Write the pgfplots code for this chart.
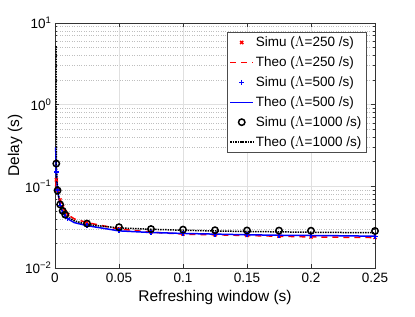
\documentclass[border=0pt]{standalone}
\usepackage{pgfplots}
\pgfplotsset{compat=1.18}
\usepackage{fontspec}
\setmainfont{Liberation Sans}
\begin{document}
\begin{tikzpicture}
\begin{axis}[
  name=ax,
  width=320pt, height=245pt, scale only axis,
  xmin=0, xmax=0.25, ymode=log, ymin=0.01, ymax=10,
  xtick={0,0.05,0.1,0.15,0.2,0.25},
  xticklabels={0,0.05,0.1,0.15,0.2,0.25},
  ytick={0.01,0.1,1,10},
  yticklabels={10\textsuperscript{−2},10\textsuperscript{−1},10\textsuperscript{0},10\textsuperscript{1}},
  tick label style={font=\fontsize{13.5}{15}\selectfont},
  xticklabel style={yshift=-2pt},
  xlabel={Refreshing window (s)}, ylabel={Delay (s)},
  label style={font=\fontsize{15.5}{17}\selectfont},
  ylabel style={yshift=-4pt},
  xmajorgrids, ymajorgrids, yminorgrids,
  major grid style={color=black!12, line width=0.5pt},
  minor grid style={color=black!25, dotted, line width=0.5pt},
  tick align=inside, major tick length=4pt, minor tick length=2pt,
  tick style={black!80, line width=0.5pt},
  axis line style={black!80, line width=0.6pt},
  legend style={at={(rel axis cs:0.972,0.963)}, anchor=north east,
    font=\fontsize{13.5}{15}\selectfont, draw=black!70,
    row sep=4.6pt, inner sep=2.5pt},
  legend cell align=left,
  legend image code/.code={\draw[mark repeat=2,mark phase=2,#1,line width=1.5pt] plot coordinates {(0cm,0cm) (0.4cm,0cm) (0.8cm,0cm)};},
]
% Simu 250
\addplot[only marks, mark=x, red, draw=red, mark size=2.2pt, line width=1.2pt] coordinates {
(0.001,0.12)(0.002,0.09)(0.004,0.068)(0.006,0.056)(0.008,0.049)(0.01,0.045)(0.025,0.036)(0.05,0.030)(0.075,0.0275)(0.1,0.026)(0.125,0.0255)(0.15,0.025)(0.175,0.0245)(0.2,0.024)(0.25,0.0237)};
\addlegendentry{Simu ($\Lambda$=250 /s)}
% Theo 250
\addplot[red, draw=red, line width=1.5pt, dash pattern=on 6pt off 5pt] coordinates {
(0.0005,0.10)(0.001,0.115)(0.002,0.09)(0.004,0.068)(0.006,0.056)(0.008,0.049)(0.01,0.045)(0.015,0.040)(0.025,0.036)(0.05,0.030)(0.075,0.0275)(0.1,0.026)(0.125,0.0255)(0.15,0.025)(0.175,0.0245)(0.2,0.024)(0.225,0.0238)(0.25,0.0236)};
\addlegendentry{Theo ($\Lambda$=250 /s)}
% Simu 500
\addplot[only marks, mark=+, blue, draw=blue, mark size=2.5pt, line width=1.2pt] coordinates {
(0.001,0.15)(0.002,0.09)(0.004,0.058)(0.006,0.048)(0.008,0.043)(0.01,0.040)(0.025,0.033)(0.05,0.0285)(0.075,0.0272)(0.1,0.0265)(0.125,0.026)(0.15,0.0255)(0.175,0.0252)(0.2,0.025)(0.25,0.0245)};
\addlegendentry{Simu ($\Lambda$=500 /s)}
% Theo 500
\addplot[blue, draw=blue, line width=1.5pt] coordinates {
(0.0005,0.3)(0.001,0.15)(0.002,0.09)(0.004,0.058)(0.006,0.048)(0.008,0.043)(0.01,0.040)(0.015,0.036)(0.025,0.033)(0.05,0.0285)(0.075,0.0272)(0.1,0.0265)(0.125,0.026)(0.15,0.0255)(0.175,0.0252)(0.2,0.025)(0.225,0.0248)(0.25,0.0245)};
\addlegendentry{Theo ($\Lambda$=500 /s)}
% Simu 1000
\addplot[only marks, mark=o, black, draw=black, mark size=3.2pt, line width=1.5pt] coordinates {
(0.001,0.19)(0.002,0.089)(0.004,0.06)(0.006,0.05)(0.008,0.045)(0.025,0.035)(0.05,0.0316)(0.075,0.030)(0.1,0.0295)(0.125,0.029)(0.15,0.0288)(0.175,0.0287)(0.2,0.0286)(0.25,0.0284)};
\addlegendentry{Simu ($\Lambda$=1000 /s)}
% Theo 1000
\addplot[black, draw=black, densely dotted, line width=1.5pt] coordinates {
(0.0009,5.2)(0.001,0.19)(0.002,0.09)(0.004,0.06)(0.006,0.05)(0.008,0.045)(0.01,0.042)(0.015,0.038)(0.025,0.034)(0.05,0.031)(0.075,0.0298)(0.1,0.029)(0.125,0.0284)(0.15,0.028)(0.175,0.0277)(0.2,0.0274)(0.225,0.0272)(0.25,0.027)};
\addlegendentry{Theo ($\Lambda$=1000 /s)}
\end{axis}
\path[use as bounding box] ([xshift=-55pt,yshift=-48pt]ax.south west) rectangle ([xshift=40pt,yshift=23pt]ax.north east);
\end{tikzpicture}
\end{document}
